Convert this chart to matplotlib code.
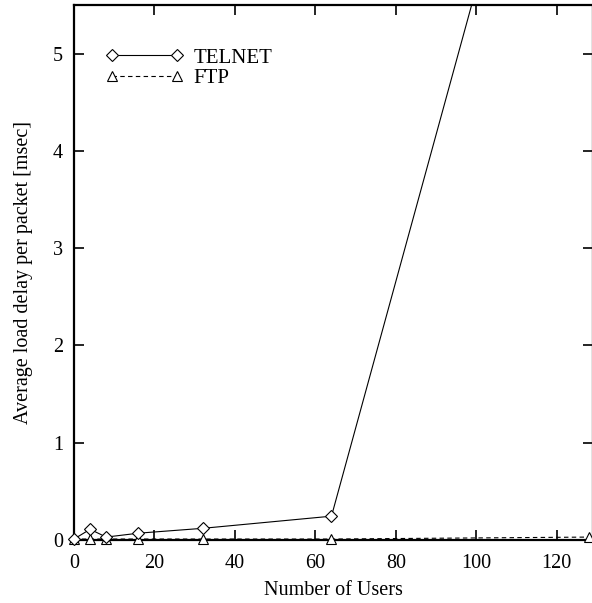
import matplotlib
matplotlib.use("Agg")
import matplotlib.pyplot as plt
from matplotlib.lines import Line2D

plt.rcParams['font.family'] = ['Liberation Serif', 'DejaVu Serif']

users = [0, 4, 8, 16, 32, 64, 128]
telnet = [0.01, 0.11, 0.03, 0.07, 0.12, 0.245, 9.9]
ftp = [0.01, 0.01, 0.01, 0.01, 0.01, 0.01, 0.03]

fig = plt.figure(figsize=(5.92, 6.03), dpi=100)
ax = fig.add_axes([74/592, 63/603, 519/592, 535/603])

# line clipped to the frame, markers allowed to sit over the axis
ax.plot(users, telnet, color='black', lw=0.8)
ax.plot(users, telnet, ls='none', marker='D', ms=6.5, mfc='white', mec='black',
        mew=0.8, clip_on=False, zorder=4)
ax.plot(users, ftp, color='black', lw=0.8, ls=(0, (4, 3)), marker='^', ms=7,
        mfc='white', mec='black', mew=0.8, clip_on=False, zorder=3)

ax.set_xlim(0, 129)
ax.set_ylim(0, 5.5)
ax.set_xticks([0, 20, 40, 60, 80, 100, 120])
ax.set_yticks([0, 1, 2, 3, 4, 5])
ax.tick_params(direction='in', length=7, width=1.2, top=True, right=True,
               labelsize=14.5, pad=8)
ax.tick_params(axis='x', pad=10)
for s in ax.spines.values():
    s.set_linewidth(1.6)

ax.set_xlabel('Number of Users', fontsize=14.5, labelpad=6)
ax.set_ylabel('Average load delay per packet [msec]', fontsize=14.5, labelpad=14)

handles = [
    Line2D([], [], color='black', lw=0.8, marker='D', ms=6.5, mfc='white',
           mec='black', mew=0.8),
    Line2D([], [], color='black', lw=0.8, ls=(0, (4, 3)), marker='^', ms=7,
           mfc='white', mec='black', mew=0.8),
]
ax.legend(handles, ['TELNET', 'FTP'], loc='upper left', frameon=False,
          numpoints=2, handlelength=3.7, fontsize=15, borderaxespad=0.0,
          bbox_to_anchor=(0.045, 0.935), labelspacing=0.05, handletextpad=0.5)

fig.savefig('out.png', dpi=100)
